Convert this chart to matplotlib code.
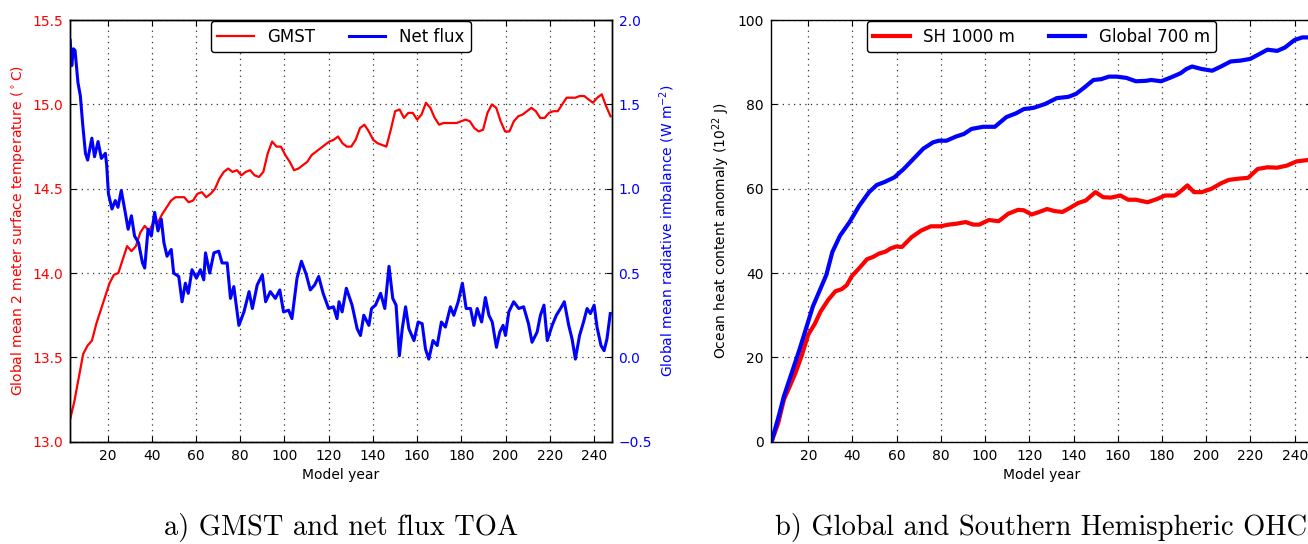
import numpy as np
import matplotlib
matplotlib.use("Agg")
import matplotlib.pyplot as plt

# GMST (deg C), read every ~2 model years
gmst_years = np.linspace(3, 247.5, 124)
gmst = [13.13, 13.24, 13.38, 13.52, 13.57, 13.60, 13.70, 13.78, 13.86, 13.94,
        13.99, 14.00, 14.08, 14.16, 14.13, 14.16, 14.24, 14.28, 14.25, 14.30,
        14.30, 14.35, 14.39, 14.43, 14.45, 14.45, 14.45, 14.42, 14.43, 14.47,
        14.48, 14.45, 14.47, 14.50, 14.56, 14.60, 14.62, 14.60, 14.61, 14.58,
        14.60, 14.61, 14.58, 14.57, 14.60, 14.71, 14.78, 14.75, 14.75, 14.70,
        14.66, 14.61, 14.62, 14.64, 14.66, 14.70, 14.72, 14.74, 14.76, 14.78,
        14.79, 14.81, 14.77, 14.75, 14.75, 14.79, 14.86, 14.88, 14.84, 14.79,
        14.77, 14.76, 14.75, 14.85, 14.96, 14.97, 14.92, 14.95, 14.95, 14.91,
        14.94, 15.01, 14.98, 14.92, 14.88, 14.89, 14.89, 14.89, 14.89, 14.90,
        14.91, 14.90, 14.86, 14.84, 14.85, 14.95, 15.00, 14.98, 14.90, 14.84,
        14.84, 14.90, 14.93, 14.94, 14.96, 14.98, 14.96, 14.92, 14.92, 14.95,
        14.96, 14.96, 15.00, 15.04, 15.04, 15.04, 15.05, 15.05, 15.03, 15.01,
        15.04, 15.06, 14.99, 14.93]

# net TOA flux (W m-2)
flux_years = [3.1, 3.8, 4.6, 5.3, 6.6, 7.7, 8.7, 10.0, 11.0, 12.9, 14.1, 15.7,
              17.2, 19.0, 19.6, 20.4, 22.0, 23.5, 24.7, 26.2, 28.0, 29.3, 30.8,
              32.2, 34.0, 35.8, 36.8, 38.3, 39.8, 41.3, 42.8, 44.3, 45.5, 46.9,
              48.8, 49.9, 52.2, 53.7, 55.2, 56.5, 58.2, 60.2, 62.0, 63.5, 64.3,
              66.2, 68.1, 70.3, 71.8, 74.1, 75.6, 77.1, 79.4, 81.7, 84.0, 85.5,
              87.7, 90.0, 91.5, 93.6, 95.9, 97.9, 99.6, 101.9, 103.4, 105.7,
              107.7, 109.9, 111.7, 113.7, 115.5, 117.5, 120.0, 122.2, 123.8,
              124.7, 126.1, 128.0, 130.6, 132.9, 134.4, 135.9, 138.2, 139.4,
              141.2, 143.5, 145.4, 147.3, 149.0, 150.5, 152.0, 153.3, 154.8,
              156.3, 158.6, 160.5, 162.3, 163.8, 165.3, 167.2, 169.1, 171.0,
              172.8, 175.1, 176.6, 178.6, 180.5, 182.2, 184.2, 185.7, 187.2,
              189.2, 190.9, 192.5, 194.0, 195.9, 197.4, 198.9, 200.0, 201.5,
              203.7, 206.0, 208.2, 210.4, 212.0, 214.3, 215.8, 217.4, 218.9,
              221.1, 223.0, 224.9, 226.6, 228.6, 230.1, 231.6, 233.5, 235.3,
              236.9, 238.4, 240.1, 241.4, 243.2, 244.6, 245.9, 247.4]
flux = [1.88, 1.73, 1.83, 1.82, 1.63, 1.55, 1.39, 1.21, 1.17, 1.30, 1.19, 1.28,
        1.18, 1.21, 1.14, 0.97, 0.88, 0.93, 0.89, 0.99, 0.86, 0.76, 0.84,
        0.72, 0.68, 0.56, 0.53, 0.76, 0.72, 0.86, 0.75, 0.82, 0.68, 0.60,
        0.64, 0.50, 0.48, 0.33, 0.44, 0.38, 0.52, 0.47, 0.52, 0.46, 0.62,
        0.50, 0.62, 0.63, 0.56, 0.56, 0.35, 0.42, 0.19, 0.27, 0.39, 0.29,
        0.43, 0.49, 0.33, 0.39, 0.35, 0.40, 0.27, 0.28, 0.23, 0.47,
        0.57, 0.49, 0.40, 0.43, 0.48, 0.38, 0.29, 0.30, 0.23,
        0.33, 0.27, 0.41, 0.31, 0.17, 0.13, 0.25, 0.19, 0.29,
        0.31, 0.38, 0.29, 0.54, 0.35, 0.31, 0.01, 0.17, 0.30,
        0.17, 0.10, 0.21, 0.20, 0.05, -0.01, 0.10, 0.07, 0.21,
        0.18, 0.30, 0.25, 0.33, 0.44, 0.29, 0.29, 0.19, 0.29,
        0.21, 0.355, 0.25, 0.21, 0.06, 0.15, 0.19, 0.13, 0.27,
        0.33, 0.29, 0.30, 0.20, 0.09, 0.15, 0.25, 0.31, 0.10,
        0.19, 0.25, 0.29, 0.33, 0.19, 0.11, -0.01, 0.13, 0.21,
        0.29, 0.26, 0.31, 0.18, 0.07, 0.04, 0.11, 0.26]

# ocean heat content anomaly (1e22 J)
sh_years = [3.4, 6.4, 9.0, 11.6, 14.2, 16.9, 20.0, 23.0, 25.6, 29.1, 32.3, 35.2,
            37.5, 39.6, 43.1, 46.6, 49.2, 51.9, 55.0, 57.1, 59.7, 62.4, 66.7,
            71.1, 75.5, 79.9, 83.4, 86.9, 91.2, 94.7, 97.4, 101.7, 106.1,
            110.5, 114.9, 117.5, 121.0, 124.5, 128.0, 131.5, 135.0, 138.5,
            142.0, 145.5, 149.9, 153.4, 156.9, 161.2, 164.7, 168.2, 173.5,
            177.9, 181.4, 185.8, 188.4, 191.5, 194.5, 198.0, 202.4, 206.7,
            210.2, 214.6, 219.0, 223.3, 227.7, 232.1, 236.5, 240.9, 245.7, 248.0]
sh_1000 = [0.0, 4.4, 10.0, 13.1, 16.3, 20.2, 25.4, 28.0, 30.9, 33.7, 35.7, 36.2,
           37.2, 39.2, 41.2, 43.3, 43.8, 44.6, 45.1, 45.8, 46.3, 46.2, 48.5,
           50.1, 51.1, 51.1, 51.5, 51.7, 52.1, 51.5, 51.5, 52.6, 52.3,
           54.1, 55.0, 54.9, 53.9, 54.5, 55.2, 54.7, 54.5, 55.5,
           56.6, 57.2, 59.2, 58.0, 57.9, 58.4, 57.4, 57.4, 56.8,
           57.6, 58.4, 58.4, 59.4, 60.8, 59.2, 59.2, 60.0, 61.3,
           62.1, 62.4, 62.6, 64.7, 65.1, 65.0, 65.5, 66.5, 66.8, 67.0]
gl_years = [3.4, 6.4, 9.0, 12.5, 16.0, 19.5, 22.1, 25.6, 28.2, 30.9, 34.4, 38.7,
            43.1, 47.5, 51.0, 54.5, 58.9, 63.2, 67.6, 72.0, 76.4, 79.0, 82.5,
            86.9, 90.4, 93.9, 99.1, 104.4, 109.6, 114.0, 117.5, 121.9, 127.1,
            132.4, 137.6, 141.1, 144.6, 149.0, 152.5, 156.0, 159.5, 163.9,
            168.2, 172.6, 175.2, 179.6, 184.0, 188.4, 191.0, 193.6, 198.0,
            202.7, 206.7, 211.1, 215.5, 219.9, 224.2, 227.7, 232.1, 235.6,
            240.0, 243.5, 248.0]
gl_700 = [0.1, 5.6, 10.8, 16.3, 21.8, 27.7, 32.1, 36.4, 39.6, 45.0, 48.9, 52.1,
          56.0, 59.2, 60.9, 61.6, 62.7, 64.7, 67.1, 69.5, 71.0, 71.4, 71.4,
          72.4, 73.0, 74.2, 74.7, 74.7, 77.0, 77.9, 78.9, 79.2, 80.1,
          81.5, 81.8, 82.5, 83.9, 85.8, 86.0, 86.6, 86.6, 86.3,
          85.5, 85.6, 85.8, 85.5, 86.4, 87.4, 88.4, 89.0, 88.4,
          88.0, 89.0, 90.2, 90.4, 90.8, 92.0, 93.0, 92.7, 93.5,
          95.3, 95.9, 95.9]

plt.rcParams['font.family'] = 'DejaVu Sans'
plt.rcParams['font.size'] = 10
plt.rcParams['axes.linewidth'] = 1.0

fig = plt.figure(figsize=(13.08, 5.44), dpi=100)
ax1 = fig.add_axes([0.0535, 0.188, 0.4141, 0.775])
ax2 = fig.add_axes([0.5892, 0.188, 0.4141, 0.775])


def style(ax):
    ax.set_xlim(3, 248)
    ax.set_xticks(range(20, 241, 20))
    ax.grid(True, color='0.2', linestyle=(0, (1, 3.5)), linewidth=0.9)
    ax.tick_params(direction='in', length=4, width=0.8, top=True, pad=5)
    ax.set_xlabel('Model year', fontsize=10)


# a) GMST and net flux
l1, = ax1.plot(gmst_years, gmst, color='red', lw=1.6, label='GMST')
ax1.set_ylim(13.0, 15.5)
ax1.set_yticks(np.arange(13.0, 15.51, 0.5))
style(ax1)
ax1.tick_params(axis='y', labelcolor='red')
ax1.set_ylabel('Global mean 2 meter surface temperature ($^\\circ$C)', color='red')

ax1b = ax1.twinx()
l2, = ax1b.plot(flux_years, flux, color='blue', lw=2.2, label='Net flux')
ax1b.set_ylim(-0.5, 2.0)
ax1b.set_yticks(np.arange(-0.5, 2.01, 0.5))
ax1b.tick_params(direction='in', length=4, width=0.8, labelcolor='blue', pad=5)
ax1b.set_ylabel('Global mean radiative imbalance (W m$^{-2}$)', color='blue')
ax1b.set_xlim(3, 248)

leg = ax1b.legend([l1, l2], ['GMST', 'Net flux'], loc='upper center', ncol=2,
                  fontsize=12, fancybox=True, framealpha=1, edgecolor='k',
                  handlelength=2.2, handletextpad=0.8, columnspacing=2.0,
                  borderaxespad=0.05)
leg.get_frame().set_linewidth(1.0)

# b) OHC
ax2.plot(sh_years, sh_1000, color='red', lw=3, label='SH 1000 m')
ax2.plot(gl_years, gl_700, color='blue', lw=3, label='Global 700 m')
ax2.set_ylim(0, 100)
ax2.set_yticks(range(0, 101, 20))
style(ax2)
ax2.tick_params(right=True)
ax2.set_ylabel('Ocean heat content anomaly ($10^{22}$ J)')
leg2 = ax2.legend(loc='upper center', ncol=2, fontsize=12, fancybox=True,
                  framealpha=1, edgecolor='k', handlelength=2.2,
                  handletextpad=0.8, columnspacing=2.0, borderaxespad=0.05)
leg2.get_frame().set_linewidth(1.0)

fig.text(0.2607, 0.031, 'a) GMST and net flux TOA', ha='center', va='center',
         family='cmr10', fontsize=20.5)
fig.text(0.7962, 0.031, 'b) Global and Southern Hemispheric OHC', ha='center',
         va='center', family='cmr10', fontsize=20.5)

fig.savefig('out.png', dpi=100, facecolor='white')
